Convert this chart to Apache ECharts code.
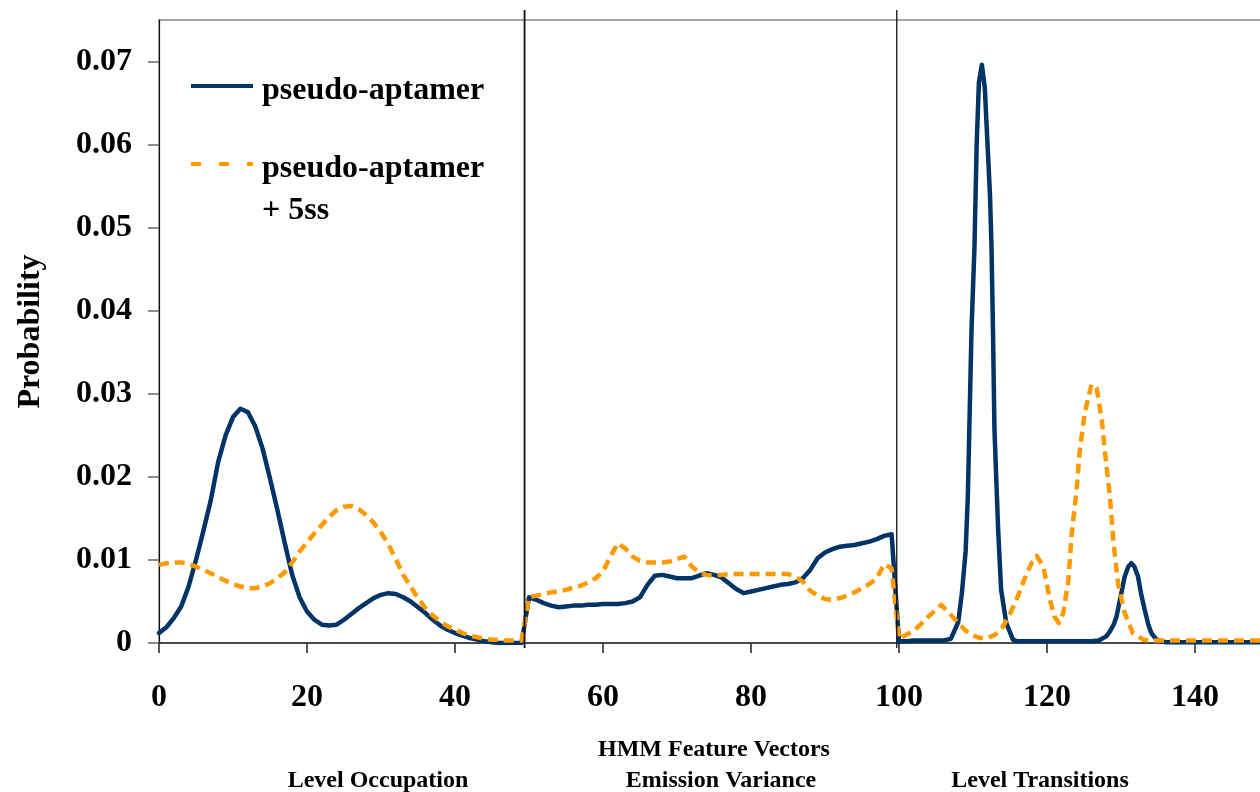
<!DOCTYPE html>
<html>
<head>
<meta charset="utf-8">
<title>HMM Feature Vectors</title>
<script src="https://cdn.jsdelivr.net/npm/echarts@6/dist/echarts.min.js"></script>
<style>
  html, body { margin: 0; padding: 0; background: #fff; }
  #chart { width: 1260px; height: 792px; }
</style>
</head>
<body>
<div id="chart"></div>
<script>
// Feature-vector probabilities, [feature index, probability]
const aptamerOccupation = [[0,0.0012],[1,0.0019],[2,0.0030],[3,0.0044],[4,0.0068],[5,0.0100],[6,0.0135],[7,0.0172],[8,0.0218],[9,0.0250],[10,0.0272],[11,0.0282],[12,0.0278],[13,0.0261],[14,0.0234],[15,0.0198],[16,0.0160],[17,0.0120],[18,0.0082],[19,0.0055],[20,0.0038],[21,0.0028],[22,0.0022],[23,0.0021],[24,0.0022],[25,0.0028],[26,0.0035],[27,0.0042],[28,0.0048],[29,0.0054],[30,0.0058],[31,0.0060],[32,0.0059],[33,0.0055],[34,0.0050],[35,0.0043],[36,0.0036],[37,0.0028],[38,0.0021],[39,0.0016],[40,0.0012],[41,0.0009],[42,0.0006],[43,0.0004],[44,0.0002],[45,0.0001],[46,0.0000],[47,0.0000],[48,0.0000],[49,0.0000]];
const aptamerVariance = [[50,0.0055],[51,0.0052],[52,0.0048],[53,0.0045],[54,0.0043],[55,0.0044],[56,0.0045],[57,0.0045],[58,0.0046],[59,0.0046],[60,0.0047],[61,0.0047],[62,0.0047],[63,0.0048],[64,0.0050],[65,0.0055],[66,0.0070],[67,0.0081],[68,0.0082],[69,0.0080],[70,0.0078],[71,0.0078],[72,0.0078],[73,0.0081],[74,0.0084],[75,0.0082],[76,0.0079],[77,0.0072],[78,0.0065],[79,0.0060],[80,0.0062],[81,0.0064],[82,0.0066],[83,0.0068],[84,0.0070],[85,0.0071],[86,0.0073],[87,0.0078],[88,0.0088],[89,0.0102],[90,0.0109],[91,0.0113],[92,0.0116],[93,0.0117],[94,0.0118],[95,0.0120],[96,0.0122],[97,0.0125],[98,0.0129],[99,0.0131]];
const aptamerTransitions = [[100,0.0002],[101,0.0002],[102,0.0003],[103,0.0003],[104,0.0003],[105,0.0003],[106,0.0003],[107,0.0005],[108,0.0025],[108.5,0.0060],[109,0.0110],[109.3,0.0176],[109.6,0.0297],[109.8,0.0377],[110.2,0.0477],[110.5,0.0602],[110.8,0.0675],[111.2,0.0696],[111.6,0.0668],[111.8,0.0630],[112,0.0594],[112.3,0.0538],[112.5,0.0477],[112.7,0.0377],[112.9,0.0257],[113.4,0.0136],[113.8,0.0064],[114.5,0.0024],[115.4,0.0004],[116,0.0002],[118,0.0002],[120,0.0002],[122,0.0002],[124,0.0002],[126,0.0002],[127,0.0003],[128,0.0008],[128.5,0.0014],[129,0.0022],[129.4,0.0032],[130,0.0058],[130.5,0.0080],[131,0.0092],[131.4,0.0096],[131.8,0.0092],[132.3,0.0080],[132.7,0.0060],[133.2,0.0040],[133.7,0.0022],[134.1,0.0012],[134.8,0.0004],[136,0.0001],[140,0.0001],[145,0.0001],[149,0.0001]];

const aptamer5ssOccupation = [[0,0.0094],[1,0.0096],[2,0.0097],[3,0.0097],[4,0.0095],[5,0.0092],[6,0.0088],[7,0.0084],[8,0.0079],[9,0.0075],[10,0.0071],[11,0.0068],[12,0.0066],[13,0.0066],[14,0.0068],[15,0.0072],[16,0.0078],[17,0.0085],[18,0.0097],[19,0.0110],[20,0.0121],[21,0.0132],[22,0.0142],[23,0.0152],[24,0.0160],[25,0.0164],[26,0.0165],[27,0.0161],[28,0.0154],[29,0.0145],[30,0.0133],[31,0.0119],[32,0.0101],[33,0.0082],[34,0.0068],[35,0.0054],[36,0.0042],[37,0.0033],[38,0.0026],[39,0.0020],[40,0.0016],[41,0.0012],[42,0.0009],[43,0.0007],[44,0.0005],[45,0.0004],[46,0.0004],[47,0.0003],[48,0.0003],[49,0.0003]];
const aptamer5ssVariance = [[50,0.0055],[51,0.0057],[52,0.0059],[53,0.0061],[54,0.0062],[55,0.0064],[56,0.0067],[57,0.0069],[58,0.0073],[59,0.0078],[60,0.0086],[61,0.0104],[62,0.0120],[63,0.0114],[64,0.0104],[65,0.0099],[66,0.0097],[67,0.0097],[68,0.0097],[69,0.0098],[70,0.0101],[71,0.0104],[72,0.0092],[73,0.0085],[74,0.0082],[75,0.0081],[76,0.0082],[77,0.0083],[78,0.0083],[79,0.0083],[80,0.0083],[81,0.0083],[82,0.0083],[83,0.0083],[84,0.0083],[85,0.0083],[86,0.0080],[87,0.0074],[88,0.0063],[89,0.0057],[90,0.0053],[91,0.0052],[92,0.0054],[93,0.0057],[94,0.0061],[95,0.0066],[96,0.0071],[97,0.0078],[98,0.0095],[99,0.0090]];
const aptamer5ssTransitions = [[100,0.0005],[101,0.0010],[102,0.0015],[103,0.0023],[104,0.0032],[105,0.0040],[105.7,0.0046],[107,0.0034],[108,0.0024],[109,0.0015],[110,0.0009],[111,0.0006],[112,0.0006],[113,0.0010],[114,0.0019],[115,0.0035],[116,0.0055],[117,0.0078],[118,0.0098],[118.6,0.0105],[119.5,0.0092],[120.4,0.0052],[121,0.0032],[121.6,0.0024],[122.2,0.0036],[122.9,0.0076],[123.3,0.0128],[124,0.0184],[124.4,0.0229],[125.1,0.0277],[126,0.0311],[126.7,0.0307],[127.4,0.0269],[127.8,0.0233],[128.5,0.0176],[129,0.0120],[129.6,0.0072],[130.5,0.0036],[131.6,0.0012],[133,0.0004],[134,0.0003],[140,0.0003],[145,0.0003],[149,0.0003]];

const seriesNames = ['pseudo-aptamer', 'pseudo-aptamer + 5ss'];
const xTicks = [0, 20, 40, 60, 80, 100, 120, 140];
const yTicks = [0, 0.01, 0.02, 0.03, 0.04, 0.05, 0.06, 0.07];
const sectionBounds = [49.4, 99.7];
const sectionNames = ['Level Occupation', 'Emission Variance', 'Level Transitions'];

const FONT = "'Liberation Serif', 'Times New Roman', serif";
const NAVY = '#003366';
const ORANGE = '#FF9900';

// Legend swatches: a 4px solid / dashed bar at the top of a 62 x 14 box
// (the trailing open sub-path only sets the box height and paints nothing)
const SOLID_ICON = 'path://M0,0h62v4h-62z M0,14h62';
const DASH_ICON = 'path://M0,0h10v4h-10z M28,0h10v4h-10z M56,0h6v4h-6z M0,14h62';

const chart = echarts.init(document.getElementById('chart'), null, { renderer: 'canvas' });

const labelFont = { fontFamily: FONT, fontWeight: 'bold', fontSize: 32, color: '#000' };
const legendText = {
  fontFamily: FONT, fontWeight: 'bold', fontSize: 32, color: '#000',
  lineHeight: 42, padding: [0, 0, 0, 4]
};

chart.setOption({
  animation: false,
  backgroundColor: '#fff',
  grid: {
    left: 159, top: 20, width: 1110, height: 623,
    outerBoundsMode: 'none',
    show: true, borderColor: '#8a8a8a', borderWidth: 1.5, backgroundColor: 'transparent'
  },
  xAxis: {
    type: 'value', min: 0, max: 150, interval: 20,
    axisLine: { show: true, lineStyle: { color: '#4a4a4a', width: 2 } },
    axisTick: { show: true, length: 10, customValues: xTicks, lineStyle: { color: '#222', width: 1.5 } },
    axisLabel: Object.assign({ customValues: xTicks, margin: 39 }, labelFont),
    splitLine: { show: false },
    name: 'HMM Feature Vectors', nameLocation: 'middle', nameGap: 95,
    nameTextStyle: { fontFamily: FONT, fontWeight: 'bold', fontSize: 24, color: '#000' }
  },
  yAxis: {
    type: 'value', min: 0, max: 0.075, interval: 0.01,
    axisLine: { show: true, lineStyle: { color: '#111', width: 1.2 } },
    axisTick: { show: true, length: 11, customValues: yTicks, lineStyle: { color: '#666', width: 1.5 } },
    axisLabel: Object.assign({
      customValues: yTicks, margin: 27,
      formatter: v => (v === 0 ? '0' : v.toFixed(2))
    }, labelFont),
    splitLine: { show: false },
    name: 'Probability', nameLocation: 'middle', nameGap: 112,
    nameTextStyle: { fontFamily: FONT, fontWeight: 'bold', fontSize: 32, color: '#000' }
  },
  legend: [
    {
      data: [{ name: seriesNames[0], icon: SOLID_ICON }],
      orient: 'vertical', left: 191, top: 70, padding: 0,
      itemWidth: 62, itemHeight: 14,
      itemStyle: { borderWidth: 0 },
      textStyle: legendText
    },
    {
      data: [{ name: seriesNames[1], icon: DASH_ICON }],
      orient: 'vertical', left: 191, top: 106, padding: 0,
      itemWidth: 62, itemHeight: 14,
      itemStyle: { borderWidth: 0 },
      formatter: () => '\npseudo-aptamer\n+ 5ss',
      textStyle: legendText
    }
  ],
  series: [
    {
      name: seriesNames[0], type: 'line', symbol: 'none', showSymbol: false,
      data: aptamerOccupation.concat(aptamerVariance, aptamerTransitions),
      itemStyle: { color: NAVY },
      lineStyle: { color: NAVY, width: 4.5, cap: 'round', join: 'round' },
      z: 3
    },
    {
      name: seriesNames[1], type: 'line', symbol: 'none', showSymbol: false,
      data: aptamer5ssOccupation.concat(aptamer5ssVariance, aptamer5ssTransitions),
      itemStyle: { color: ORANGE },
      lineStyle: { color: ORANGE, width: 4.5, type: [10, 6], cap: 'butt', join: 'round' },
      z: 4
    }
  ]
});

// Section dividers and section captions
const plotTopPx = chart.convertToPixel({ gridIndex: 0 }, [0, 0.075])[1];
const plotBasePx = chart.convertToPixel({ gridIndex: 0 }, [0, 0])[1];
const dividers = sectionBounds.map((b, i) => {
  const x = chart.convertToPixel({ gridIndex: 0 }, [b, 0])[0];
  return {
    type: 'line', z: 10,
    shape: { x1: x, y1: plotTopPx - 10, x2: x, y2: plotBasePx + 5 },
    style: { stroke: '#111', lineWidth: i === 0 ? 1.8 : 1.3 }
  };
});
const captionX = [378, 721, 1040];
const captions = sectionNames.map((t, i) => ({
  type: 'text', z: 10,
  style: {
    text: t, x: captionX[i], y: 781, align: 'center', verticalAlign: 'middle',
    font: "bold 24px 'Liberation Serif', 'Times New Roman', serif", fill: '#000'
  }
}));
chart.setOption({ graphic: dividers.concat(captions) });
</script>
</body>
</html>
